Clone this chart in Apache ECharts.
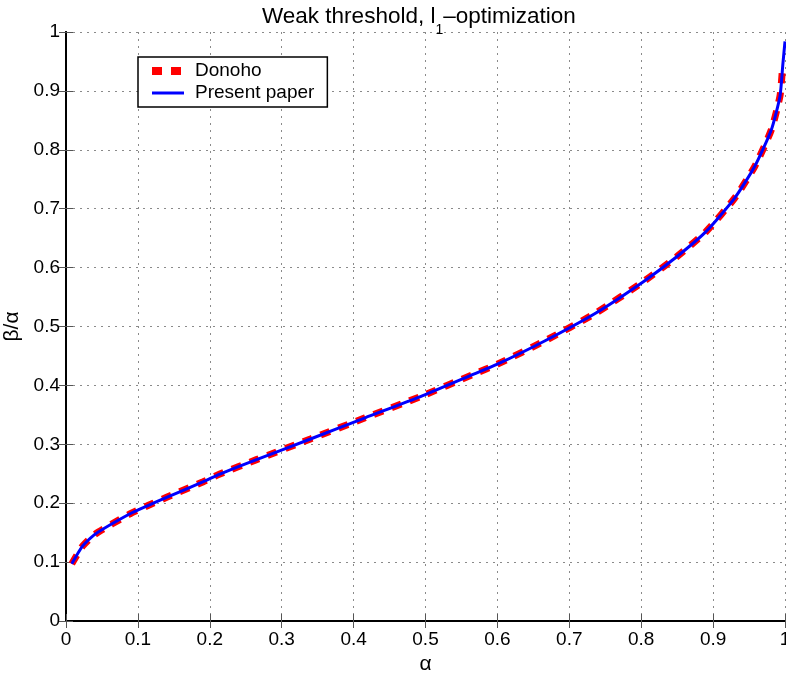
<!DOCTYPE html>
<html>
<head>
<meta charset="utf-8">
<script src="https://cdn.jsdelivr.net/npm/echarts@6/dist/echarts.min.js"></script>
<style>html,body{margin:0;padding:0;background:#fff;}#c{width:786px;height:673px;}</style>
</head>
<body>
<div id="c"></div>
<script>
// Data
const presentAlpha = [0.008, 0.023, 0.04, 0.089, 0.114, 0.14, 0.191, 0.214, 0.265, 0.34, 0.416, 0.493, 0.567, 0.6, 0.665, 0.737, 0.804, 0.849, 0.89, 0.93, 0.958, 0.981, 0.993, 0.997, 1.0];
const presentBeta  = [0.097, 0.127, 0.147, 0.182, 0.196, 0.21, 0.2365, 0.2495, 0.274, 0.309, 0.345, 0.381, 0.419, 0.436, 0.475, 0.523, 0.577, 0.618, 0.661, 0.718, 0.772, 0.834, 0.891, 0.945, 0.984];
const donohoAlpha  = [0.008, 0.023, 0.04, 0.089, 0.114, 0.14, 0.191, 0.214, 0.265, 0.34, 0.416, 0.493, 0.567, 0.6, 0.665, 0.737, 0.804, 0.849, 0.89, 0.93, 0.958, 0.981, 0.993, 0.996];
const donohoBeta   = [0.097, 0.127, 0.147, 0.182, 0.196, 0.21, 0.2365, 0.2495, 0.274, 0.309, 0.345, 0.381, 0.419, 0.436, 0.475, 0.523, 0.577, 0.618, 0.661, 0.718, 0.772, 0.834, 0.891, 0.93];
const seriesNames = ['Donoho', 'Present paper'];
const titleMain = 'Weak threshold, l';
const titleSub = '1';
const titleRest = '–optimization';
const xName = 'α';
const yName = 'β/α';

const FONT = 'Liberation Sans, Arial, sans-serif';
const zip = (a, b) => a.map((v, i) => [v, b[i]]);

const chart = echarts.init(document.getElementById('c'), null, {renderer: 'canvas'});
const gridLine = {show: true, lineStyle: {color: '#8a8a8a', width: 1, type: [2, 5]}};
const axisLine = {show: true, lineStyle: {color: '#000', width: 2}};
const axisTick = {show: true, inside: true, length: 7, lineStyle: {color: '#555', width: 1}};

chart.setOption({
  animation: false,
  backgroundColor: '#fff',
  title: {
    text: '{a|' + titleMain + '}{s|' + titleSub + '}{a|' + titleRest + '}',
    left: 257, top: 0,
    textStyle: {
      rich: {
        a: {fontFamily: FONT, fontSize: 22.5, fontWeight: 'normal', color: '#000'},
        s: {fontFamily: FONT, fontSize: 14, fontWeight: 'normal', color: '#000', verticalAlign: 'bottom', padding: [0, 0, -9, 0]}
      }
    }
  },
  grid: {left: 66, right: 1, top: 32, bottom: 52, containLabel: false, outerBoundsMode: 'none'},
  legend: {
    left: 138, top: 57, orient: 'vertical',
    padding: [3, 13, 3, 14], itemGap: 0,
    itemWidth: 32, itemHeight: 10,
    borderColor: '#000', borderWidth: 1.5, backgroundColor: '#fff',
    textStyle: {fontFamily: FONT, fontSize: 19, color: '#000', lineHeight: 22, padding: [0, 0, 0, 6]},
    data: [
      {name: seriesNames[0], icon: 'path://M0,0 M32,10 M0,1h10v8h-10z M19,1h10v8h-10z', itemStyle: {color: '#ff0000'}},
      {name: seriesNames[1], icon: 'path://M0,0 M32,10 M0,3.5h32v3h-32z', itemStyle: {color: '#0000ff'}}
    ]
  },
  xAxis: [{
    type: 'value', min: 0, max: 1, interval: 0.1,
    name: xName, nameLocation: 'middle', nameGap: 29,
    nameTextStyle: {fontFamily: FONT, fontSize: 21, color: '#000'},
    axisLine, axisTick, splitLine: gridLine,
    axisLabel: {fontFamily: FONT, fontSize: 19, color: '#000', margin: 9}
  }, {
    type: 'value', min: 0, max: 1, interval: 0.1, position: 'top',
    axisLine, axisTick, splitLine: {show: false}, axisLabel: {show: false}
  }],
  yAxis: [{
    type: 'value', min: 0, max: 1, interval: 0.1,
    name: yName, nameLocation: 'middle', nameGap: 34,
    nameTextStyle: {fontFamily: FONT, fontSize: 21, color: '#000'},
    axisLine, axisTick, splitLine: gridLine,
    axisLabel: {fontFamily: FONT, fontSize: 19, color: '#000', margin: 6}
  }, {
    type: 'value', min: 0, max: 1, interval: 0.1, position: 'right',
    axisLine, axisTick, splitLine: {show: false}, axisLabel: {show: false}
  }],
  series: [{
    name: seriesNames[0], type: 'line', symbol: 'none', smooth: 0.2,
    data: zip(donohoAlpha, donohoBeta),
    lineStyle: {color: '#ff0000', width: 7, type: [10, 9], cap: 'butt'},
    itemStyle: {color: '#ff0000'}, z: 2
  }, {
    name: seriesNames[1], type: 'line', symbol: 'none', smooth: 0.2,
    data: zip(presentAlpha, presentBeta),
    lineStyle: {color: '#0000ff', width: 3},
    itemStyle: {color: '#0000ff'}, z: 3
  }]
});
</script>
</body>
</html>
